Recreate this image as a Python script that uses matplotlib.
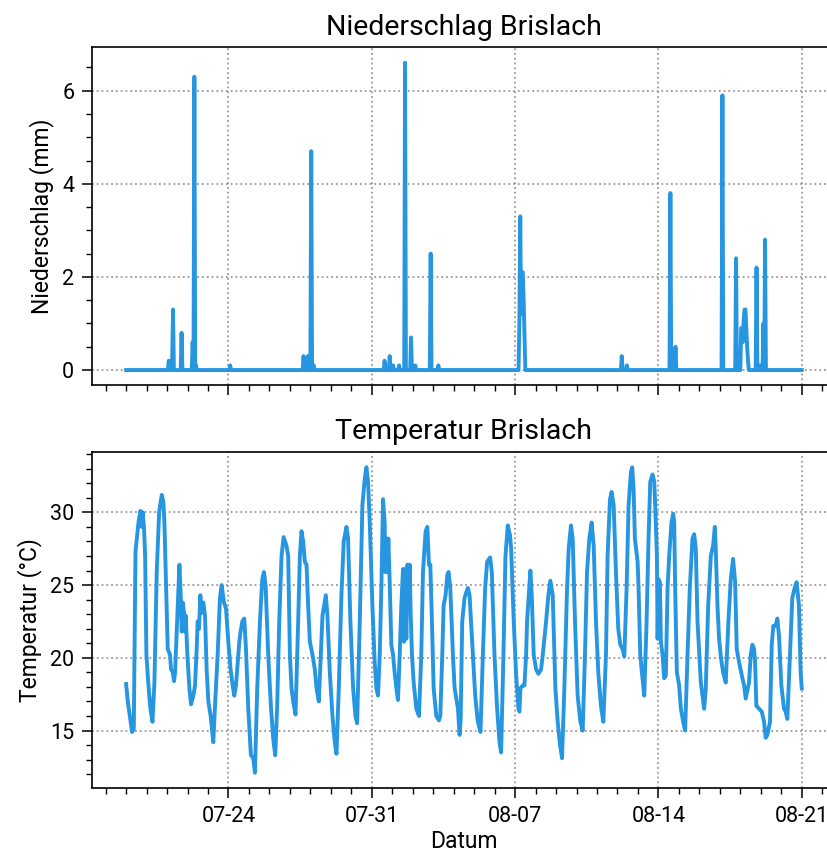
import matplotlib
matplotlib.use("Agg")
import matplotlib.pyplot as plt
import matplotlib.dates as mdates
from matplotlib.ticker import AutoMinorLocator
import numpy as np
import pandas as pd

plt.rcParams["font.family"] = ["Roboto", "DejaVu Sans"]

START = pd.Timestamp("2023-07-19 00:00")
END_HOUR = 792

# Niederschlag: Stunde seit Start -> mm (alle übrigen Stunden 0)
regen_stunde = [50, 54, 55, 65, 78, 80, 82, 122,
                208, 213, 217, 220,
                303, 309, 313, 320, 327, 334, 339, 357, 366,
                461, 462, 463, 464, 465, 466, 467,
                581, 587, 638, 644, 699, 715,
                721, 722, 723, 724, 725, 726, 727, 728, 729,
                739, 743, 747, 749]
regen_mm = [0.2, 0.2, 1.3, 0.8, 0.6, 6.3, 0.1, 0.1,
            0.3, 0.3, 4.7, 0.1,
            0.2, 0.3, 0.1, 0.1, 6.6, 0.7, 0.1, 2.5, 0.1,
            1.0, 3.3, 1.2, 2.1, 2.1, 1.5, 0.7,
            0.3, 0.1, 3.8, 0.5, 5.9, 2.4,
            0.9, 0.9, 0.6, 1.1, 1.3, 1.3, 0.9, 0.5, 0.2,
            2.2, 0.1, 1.0, 2.8]

# Temperatur: Stunde seit Start -> °C
temp_stunde = [0, 2, 7, 9, 11, 14.5, 16.8, 18.4, 19.5, 21.1, 22.3, 23.8, 26.2, 28.5, 30.9,
               33.2, 35.9, 38.7, 41.8, 43.7, 44.9, 46.9, 48.8, 51.5, 52.7, 54.7, 56.2, 57.4,
               60.5, 62.5, 64.0, 65.2, 66.4, 67.9, 69.1, 69.9, 71.8, 74.2, 76.1, 78.8, 80.8,
               82.7, 83.9, 85.5, 87.0, 88.6, 90.5, 92.5, 94.4, 96.4, 99.1, 102.2, 104.2, 107.3,
               110.0, 112.0, 114.7, 117.1, 119.8, 122.5, 124.9, 126.8, 128.8, 130.0, 132.7,
               134.2, 136.2, 138.5, 140.5, 143.2, 146.3, 149.0, 151.0, 153.7, 156.9, 159.6,
               161.5, 163.5, 166.6, 169.7, 172.5, 174.8, 177.1, 179.5, 182.2, 184.6, 188.0,
               190.0, 192.0, 193.9, 195.9, 198.6, 201.7, 203.7, 205.6, 207.6, 209.5, 211.5,
               213.4, 215.4, 218.5, 221.2, 223.2, 225.9, 228.2, 230.2, 232.1, 234.1, 236.0,
               238.8, 241.9, 244.6, 246.6, 249.3, 252.4, 255.1, 258.3, 260.2, 262.9, 266.1,
               268.8, 270.8, 273.9, 277.0, 279.7, 281.7, 283.6, 285.6, 288.7, 291.4, 293.4,
               295.3, 297.3, 299.2, 301.2, 303.1, 303.9, 305.1, 306.2, 307.4, 309.0, 310.9,
               312.9, 314.8, 316.8, 318.7, 320.7, 322.6, 324.6, 325.8, 326.9, 328.5, 329.7,
               331.2, 332.4, 333.6, 335.1, 337.1, 340.2, 343.3, 346.0, 348.0, 351.1, 353.1,
               355.0, 356.6, 358.5, 360.5, 363.6, 366.7, 368.3, 370.6, 372.2, 374.5, 376.5,
               378.0, 380.0, 383.1, 385.1, 387.0, 389.0, 390.9, 392.1, 394.0, 396.7, 398.7,
               400.6, 402.6, 406.5, 409.2, 412.3, 415.4, 418.2, 420.9, 423.2, 426.7, 428.7,
               431.8, 434.9, 437.7, 439.6, 442.3, 444.7, 447.4, 450.1, 451.3, 454.4, 457.2,
               459.9, 461.1, 462.2, 465.0, 466.9, 468.9, 470.0, 472.0, 473.9, 475.5, 477.8,
               480.6, 483.3, 486.4, 488.4, 492.3, 495.0, 497.3, 500.1, 503.2, 505.9, 508.7,
               511.0, 513.7, 516.9, 518.8, 521.5, 523.5, 526.2, 529.3, 532.5, 535.2, 537.9,
               540.3, 543.0, 545.7, 548.1, 550.8, 553.5, 556.6, 559.4, 562.5, 564.4, 567.2,
               569.1, 571.5, 574.2, 576.9, 579.3, 582.0, 584.0, 586.7, 589.0, 591.8, 593.3,
               594.9, 596.4, 599.6, 600.7, 602.7, 604.6, 607.4, 610.1, 612.4, 614.4, 617.1,
               619.1, 620.2, 622.2, 623.0, 624.1, 625.7, 626.9, 628.8, 630.8, 632.7, 634.7,
               636.6, 639.3, 641.3, 642.5, 643.6, 645.6, 648.3, 650.3, 653.0, 655.3, 658.1,
               660.8, 663.9, 665.9, 667.8, 669.8, 673.7, 677.6, 679.5, 682.3, 685.4, 688.1,
               690.1, 691.2, 693.2, 695.1, 697.5, 699.8, 702.9, 706.0, 708.8, 711.5, 713.9,
               715.8, 718.5, 721.7, 724.4, 726.3, 730.2, 732.2, 734.1, 736.1, 737.3, 738.8,
               741.9, 745.1, 747.8, 749.7, 751.7, 754.8, 756.8, 758.7, 761.4, 763.4, 765.3,
               768.1, 771.2, 773.1, 775.1, 778.2, 780.9, 783.7, 786.0, 788.7, 790.7, 792.0]
temp_c = [18.2, 17.0, 14.9, 15.1, 27.3, 29.3, 30.1, 29.0, 30.0, 28.8, 27.0, 20.2, 18.1, 16.5, 15.6,
          18.3, 25.9, 30.0, 31.2, 30.7, 29.3, 24.8, 20.6, 20.2, 19.2, 19.0, 18.4, 19.0,
          23.6, 26.4, 24.3, 21.8, 23.8, 23.1, 21.8, 22.9, 20.2, 17.9, 16.8, 17.4, 18.1,
          20.6, 22.5, 22.0, 24.3, 23.1, 23.8, 22.9, 19.2, 17.0, 16.0, 14.2, 16.7, 20.2,
          24.1, 25.0, 23.8, 23.4, 21.1, 19.2, 18.1, 17.4, 18.1, 19.0, 21.1,
          21.8, 22.5, 22.7, 20.6, 16.5, 13.3, 13.1, 12.1, 17.9, 22.5, 25.4,
          25.9, 25.0, 20.2, 16.7, 14.4, 13.3, 16.7, 22.5, 27.0, 28.3, 27.7,
          27.0, 20.2, 17.9, 17.0, 16.1, 22.5, 27.0, 28.7, 28.0, 26.6, 26.4,
          23.6, 21.1, 20.2, 19.2, 17.9, 17.0, 20.2, 22.9, 23.6, 24.3, 22.9,
          19.0, 16.0, 14.2, 13.4, 17.9, 24.3, 28.0, 29.0, 28.2, 22.5, 17.9,
          16.0, 15.5, 22.5, 30.5, 32.3, 33.1, 32.1, 29.3, 23.6, 19.7, 17.9,
          17.4, 20.2, 24.8, 30.9, 29.3, 25.9, 28.2, 25.9, 28.2, 25.2, 20.9,
          20.2, 19.0, 17.9, 17.1, 20.2, 23.6, 26.1, 21.1, 26.1, 21.3, 26.4,
          24.3, 26.4, 22.9, 20.2, 18.3, 16.5, 16.0, 20.2, 25.9, 28.7, 29.0,
          26.4, 26.4, 22.5, 17.9, 16.0, 15.7, 16.0, 20.2, 23.6, 24.3, 25.7,
          25.9, 24.8, 20.2, 17.9, 17.2, 16.5, 14.7, 15.6, 22.5, 24.1, 24.5,
          24.8, 24.3, 20.2, 17.4, 15.6, 14.9, 20.2, 24.8, 26.6, 26.9, 25.9,
          20.2, 16.5, 14.2, 13.5, 20.2, 27.0, 29.1, 28.4, 27.5, 22.5, 18.8,
          16.5, 16.3, 17.9, 18.1, 18.1, 20.2, 22.5, 24.3, 26.0, 24.3, 20.2,
          19.2, 18.9, 19.2, 20.2, 22.5, 24.3, 25.3, 24.3, 17.9, 15.6, 14.0,
          13.1, 17.9, 24.8, 27.5, 29.1, 28.2, 22.5, 17.4, 15.6, 15.0, 20.2,
          25.9, 28.2, 29.3, 27.7, 22.5, 19.0, 16.7, 15.6, 20.2, 27.0, 30.9,
          31.4, 30.5, 25.9, 22.0, 20.9, 20.6, 20.1, 24.8, 30.5, 32.8, 33.1,
          31.6, 28.2, 26.6, 24.8, 20.2, 19.0, 17.4, 22.5, 28.2, 32.1, 32.6,
          32.1, 30.5, 27.0, 21.3, 25.4, 25.2, 21.1, 20.2, 18.6, 18.8, 24.8,
          27.0, 29.3, 29.9, 29.3, 24.8, 19.0, 18.1, 16.5, 15.6, 15.0, 20.2,
          24.8, 28.2, 28.5, 27.5, 22.5, 18.3, 16.5, 17.9, 23.6, 27.0, 27.7,
          29.0, 27.5, 23.6, 21.3, 19.9, 19.0, 18.3, 22.5, 25.4, 26.8, 25.2,
          20.6, 19.7, 18.8, 18.1, 17.2, 18.3, 20.2, 20.9, 20.6, 19.7, 16.7,
          16.5, 16.3, 15.6, 14.5, 14.7, 15.6, 20.9, 22.2, 22.2, 22.7, 21.5,
          18.1, 16.5, 16.3, 15.8, 20.2, 24.1, 24.8, 25.2, 23.6, 19.0, 17.9]

BLAU = "#2696e0"

regen = np.zeros(END_HOUR + 1)
regen[regen_stunde] = regen_mm
t_regen = START + pd.to_timedelta(np.arange(END_HOUR + 1), unit="h")
t_temp = START + pd.to_timedelta(temp_stunde, unit="h")

fig = plt.figure(figsize=(8.28, 8.58), dpi=100)
ax1 = fig.add_axes([0.1115, 0.5508, 0.8976, 0.394])
ax2 = fig.add_axes([0.1115, 0.0816, 0.8976, 0.3916], sharex=ax1)

ax1.plot(t_regen, regen, color=BLAU, linewidth=2.8, solid_joinstyle="round")
ax2.plot(t_temp, temp_c, color=BLAU, linewidth=2.8, solid_joinstyle="round")

ax1.set_title("Niederschlag Brislach", fontsize=20.5, pad=9)
ax1.set_ylabel("Niederschlag (mm)", fontsize=16.5, labelpad=6)
ax2.set_title("Temperatur Brislach", fontsize=20.5, pad=9)
ax2.set_ylabel("Temperatur (°C)", fontsize=16.5, labelpad=6)
ax2.set_xlabel("Datum", fontsize=16.5, labelpad=2)

for ax in (ax1, ax2):
    ax.xaxis.set_major_locator(mdates.WeekdayLocator(byweekday=mdates.MO))
    ax.xaxis.set_minor_locator(mdates.DayLocator())
    ax.xaxis.set_major_formatter(mdates.DateFormatter("%m-%d"))
    ax.yaxis.set_minor_locator(AutoMinorLocator())
    ax.grid(True, which="major", linestyle=":", color="#999999", linewidth=1.3)
    ax.tick_params(which="major", direction="out", length=7, width=1.1, labelsize=15.5, pad=6)
    ax.tick_params(which="minor", direction="out", length=4, width=1.0)
    for s in ax.spines.values():
        s.set_linewidth(1.2)
ax1.set_yticks([0, 2, 4, 6])
ax1.tick_params(labelbottom=False)

fig.savefig("out.png", dpi=100)
